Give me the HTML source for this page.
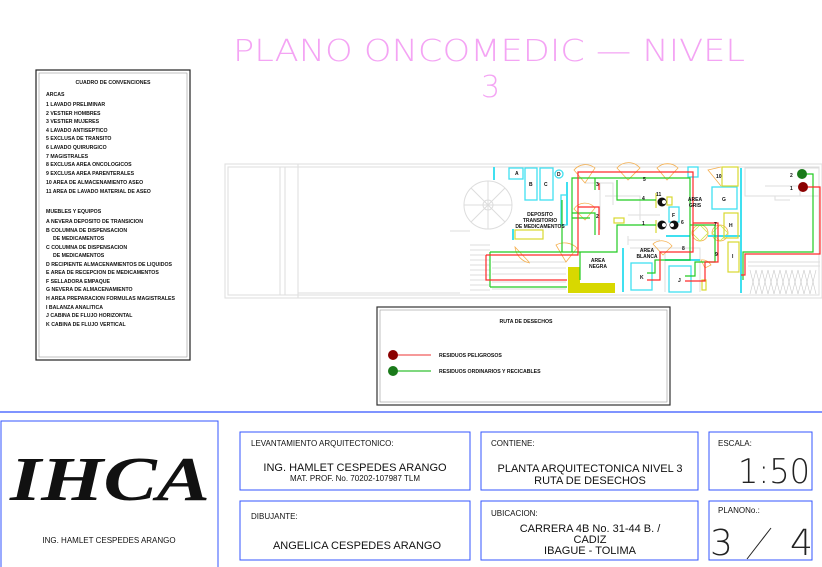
<!DOCTYPE html>
<html><head><meta charset="utf-8"><style>
html,body{margin:0;padding:0;background:#fff;}
svg{display:block;font-family:"Liberation Sans",sans-serif;}
.lg{font-size:5.2px;font-weight:bold;fill:#111;}
.tb{font-size:8px;fill:#111;}
.tm{font-size:11px;fill:#111;}
.pl{font-size:5px;font-weight:bold;fill:#111;}
.thin{font-family:"DejaVu Sans","Liberation Sans Narrow","Liberation Sans",sans-serif;font-weight:200;}
</style></head><body>
<svg width="822" height="567" viewBox="0 0 822 567" xmlns="http://www.w3.org/2000/svg">
<!-- title -->
<text x="233" y="61" font-size="30" fill="#f4a4f4" class="thin" textLength="512" lengthAdjust="spacingAndGlyphs">PLANO ONCOMEDIC  —  NIVEL</text>
<text x="481" y="97" font-size="30" fill="#f4a4f4" class="thin">3</text>

<!-- legend -->
<rect x="36" y="70" width="154" height="290" fill="none" stroke="#222" stroke-width="1.2"/>
<rect x="39" y="73" width="148" height="284" fill="none" stroke="#999" stroke-width="0.6"/>
<g class="lg">
<text x="113" y="84" text-anchor="middle">CUADRO DE CONVENCIONES</text>
<text x="46" y="96">ARCAS</text>
<text x="46" y="106">1  LAVADO PRELIMINAR</text>
<text x="46" y="115">2  VESTIER HOMBRES</text>
<text x="46" y="123">3  VESTIER MUJERES</text>
<text x="46" y="132">4  LAVADO ANTISEPTICO</text>
<text x="46" y="140">5  EXCLUSA DE TRANSITO</text>
<text x="46" y="149">6  LAVADO QUIRURGICO</text>
<text x="46" y="158">7  MAGISTRALES</text>
<text x="46" y="166">8  EXCLUSA AREA ONCOLOGICOS</text>
<text x="46" y="175">9  EXCLUSA AREA PARENTERALES</text>
<text x="46" y="184">10 AREA DE ALMACENAMIENTO ASEO</text>
<text x="46" y="193">11  AREA DE LAVADO MATERIAL DE ASEO</text>
<text x="46" y="213">MUEBLES Y EQUIPOS</text>
<text x="46" y="223">A  NEVERA DEPOSITO DE TRANSICION</text>
<text x="46" y="232">B  COLUMNA DE DISPENSACION</text>
<text x="53" y="240">DE MEDICAMENTOS</text>
<text x="46" y="249">C  COLUMNA DE DISPENSACION</text>
<text x="53" y="257">DE MEDICAMENTOS</text>
<text x="46" y="266">D  RECIPIENTE ALMACENAMIENTOS DE LIQUIDOS</text>
<text x="46" y="274">E  AREA DE RECEPCION DE MEDICAMENTOS</text>
<text x="46" y="283">F  SELLADORA EMPAQUE</text>
<text x="46" y="291">G  NEVERA DE ALMACENAMIENTO</text>
<text x="46" y="300">H  AREA PREPARACION FORMULAS MAGISTRALES</text>
<text x="46" y="309">I  BALANZA ANALITICA</text>
<text x="46" y="317">J  CABINA DE FLUJO HORIZONTAL</text>
<text x="46" y="326">K  CABINA DE FLUJO VERTICAL</text>
</g>

<!-- ruta box -->
<rect x="377" y="307" width="293" height="98" fill="none" stroke="#333" stroke-width="1.2"/>
<rect x="380" y="310" width="287" height="92" fill="none" stroke="#999" stroke-width="0.6"/>
<text x="526" y="323" class="lg" text-anchor="middle">RUTA DE DESECHOS</text>
<line x1="393" y1="355" x2="431" y2="355" stroke="#e33" stroke-width="1"/>
<circle cx="393" cy="355" r="5" fill="#8b0000"/>
<line x1="393" y1="371" x2="431" y2="371" stroke="#5c5" stroke-width="1.5"/>
<circle cx="393" cy="371" r="5" fill="#1a7a1a"/>
<text x="439" y="357" class="lg">RESIDUOS PELIGROSOS</text>
<text x="439" y="373" class="lg">RESIDUOS ORDINARIOS Y RECICABLES</text>

<!-- plan background lines -->
<g fill="none" stroke="#ddd" stroke-width="1">
<rect x="225" y="164" width="597" height="134"/>
<rect x="228" y="167" width="591" height="128"/>
<line x1="280" y1="167" x2="280" y2="295"/><line x1="285" y1="167" x2="285" y2="295"/>
<line x1="298" y1="164" x2="298" y2="298"/>
<line x1="298" y1="293" x2="460" y2="293"/>
<line x1="450" y1="231" x2="470" y2="231"/>
<circle cx="488" cy="205" r="24"/><circle cx="488" cy="205" r="5"/>
<path d="M488 181 L488 229 M464 205 L512 205 M471 188 L505 222 M505 188 L471 222"/>
<path d="M470 245 L490 245 M470 250 L490 250 M470 255 L490 255 M470 260 L490 260 M470 265 L490 265 M470 270 L490 270 M470 275 L490 275 M470 280 L490 280 M470 285 L490 285 M470 290 L490 290"/>
<path d="M492 262 L566 262 M492 268 L566 268 M492 274 L566 274 M492 282 L566 282 M492 289 L566 289"/>
<rect x="745" y="168" width="74" height="28"/>
<path d="M765 186 L800 186 L800 196 M775 196 L775 200 L790 200"/>
<path d="M748 262 L820 262 M748 266 L820 266"/>
<path d="M585 183 L613 183 L613 205 M600 183 L600 230 M605 196 L640 196 L640 220 M628 215 L660 215 M628 240 L660 240 M628 236 L628 245 M630 248 L700 248 L700 292 M665 253 L665 292"/>
</g>
<g stroke="#ccc" stroke-width="0.6">
<path d="M750 270 l6 24 M756 270 l6 24 M762 270 l6 24 M768 270 l6 24 M774 270 l6 24 M780 270 l6 24 M786 270 l6 24 M792 270 l6 24 M798 270 l6 24 M804 270 l6 24 M810 270 l6 24"/>
<path d="M750 294 l6 -24 M756 294 l6 -24 M762 294 l6 -24 M768 294 l6 -24 M774 294 l6 -24 M780 294 l6 -24 M786 294 l6 -24 M792 294 l6 -24 M798 294 l6 -24 M804 294 l6 -24 M810 294 l6 -24"/>
</g>

<path d="M568 267 L580 267 L580 283 L615 283 L615 293 L568 293 Z" fill="#d8d800"/>

<g fill="none" stroke="#f5b050" stroke-width="0.8">
<path d="M585 183 L574 170 A15 15 0 0 1 595 168 Z"/>
<path d="M628 180 L617 168 A15 15 0 0 1 640 168 Z"/>
<path d="M667 180 L657 168 A15 15 0 0 1 678 168 Z"/>
<path d="M585 220 L574 209 A13 13 0 0 1 595 208 Z"/>
<path d="M529 262 L515 247 A18 18 0 0 0 530 263"/>
<path d="M566 262 L556 245 A18 18 0 0 1 577 248 Z"/>
<path d="M663 255 L653 244 A13 13 0 0 1 672 246 Z"/>
<path d="M721 186 L708 170 L721 167"/>
<path d="M700 233 m-8 0 a8 8 0 1 0 16 0 a8 8 0 1 0 -16 0"/>
<path d="M720 233 m-8 0 a8 8 0 1 0 16 0 a8 8 0 1 0 -16 0"/>
<path d="M705 268 L701 260 A10 10 0 0 1 711 265 Z"/>
</g>
<g fill="none" stroke="#cde64a" stroke-width="0.8">
<path d="M692 233 l8 -8 l8 8 l-8 8 z M712 233 l8 -8 l8 8 l-8 8 z"/>
</g>

<g fill="none" stroke="#40e0f0" stroke-width="1.3">
<rect x="509" y="168" width="14" height="11"/>
<rect x="525" y="168" width="12" height="32"/>
<rect x="540" y="168" width="13" height="32"/>
<circle cx="559" cy="174" r="4"/>
<rect x="561" y="195" width="6" height="30"/>
<rect x="669" y="207" width="10" height="15"/>
<rect x="688" y="167" width="10" height="10"/>
<rect x="712" y="187" width="25" height="22"/>
<rect x="631" y="263" width="21" height="27"/>
<rect x="669" y="266" width="22" height="26"/>
</g>
<g stroke="#40e0f0" stroke-width="2">
<line x1="494" y1="167" x2="494" y2="180"/>
<line x1="567" y1="182" x2="567" y2="225"/>
<line x1="513" y1="229" x2="513" y2="240"/>
<line x1="741" y1="168" x2="741" y2="293"/>
<line x1="666" y1="236" x2="690" y2="236"/>
<line x1="708" y1="236" x2="741" y2="236"/>
<line x1="665" y1="260" x2="700" y2="260"/>
<line x1="623" y1="248" x2="623" y2="292"/>
</g>
<g fill="none" stroke="#d8d830" stroke-width="1.2">
<rect x="515" y="230" width="28" height="9"/>
<rect x="722" y="167" width="16" height="19"/>
<rect x="724" y="213" width="14" height="25"/>
<rect x="728" y="242" width="11" height="30"/>
<rect x="614" y="218" width="10" height="5"/>
<rect x="667" y="197" width="5" height="8"/>
<rect x="702" y="280" width="4" height="10"/>
<line x1="656" y1="193" x2="656" y2="208"/>
<line x1="656" y1="220" x2="656" y2="233"/>
</g>
<g fill="#111">
<circle cx="662" cy="202" r="4.5"/><circle cx="662" cy="225" r="4.5"/><circle cx="674" cy="225" r="4.5"/>
</g>
<g fill="#fff"><circle cx="664" cy="202" r="2"/><circle cx="664" cy="225" r="2"/><circle cx="672" cy="225" r="2"/></g>

<g fill="none" stroke="#22cc22" stroke-width="1.2">
<path d="M490 287 L567 287 M490 252 L490 287 M490 252 L617 252 L617 225 L656 225"/>
<path d="M572 252 L572 178 L690 178 L690 260 L655 260 L655 273 L647 273"/>
<path d="M572 213 L595 213 L595 235 M572 218 L590 218 M595 178 L595 190 M617 180 L617 200 L656 200"/>
<path d="M562 200 L562 252 M580 252 L580 280"/>
<path d="M690 225 L715 225 L715 262 L695 262 L695 276 L685 276"/>
<path d="M802 174 L813 174 L813 252 L743 252 L743 280"/>
</g>
<g fill="none" stroke="#ff2a2a" stroke-width="1.2">
<path d="M486 255 L578 255 L578 172 L693 172 L693 252 L660 252 L660 280 L647 280"/>
<path d="M486 255 L486 280 L567 280"/>
<path d="M578 207 L599 207 L599 235 M599 183 L599 190"/>
<path d="M693 223 L718 223 L718 262 L705 262 L705 281 L685 281"/>
<path d="M803 187 L820 187 L820 254 L745 254 L745 275 L741 275"/>
</g>
<circle cx="802" cy="174" r="5" fill="#1a7a1a"/>
<circle cx="803" cy="187" r="5" fill="#8b0000"/>
<g class="pl">
<text x="515" y="175">A</text><text x="529" y="186">B</text><text x="544" y="186">C</text><text x="557" y="176">D</text>
<text x="790" y="177">2</text><text x="790" y="190">1</text>
<text x="716" y="178">10</text><text x="722" y="201">G</text><text x="729" y="227">H</text><text x="732" y="258">I</text>
<text x="640" y="279">K</text><text x="678" y="282">J</text><text x="672" y="217">F</text>
<text x="540" y="216" text-anchor="middle">DEPOSITO</text>
<text x="540" y="222" text-anchor="middle">TRANSITORIO</text>
<text x="540" y="228" text-anchor="middle">DE MEDICAMENTOS</text>
<text x="598" y="262" text-anchor="middle">AREA</text><text x="598" y="268" text-anchor="middle">NEGRA</text>
<text x="647" y="252" text-anchor="middle">AREA</text><text x="647" y="258" text-anchor="middle">BLANCA</text>
<text x="695" y="201" text-anchor="middle">AREA</text><text x="695" y="207" text-anchor="middle">GRIS</text>
<text x="596" y="186">3</text><text x="596" y="218">2</text><text x="643" y="181">5</text>
<text x="642" y="200">4</text><text x="642" y="225">1</text><text x="681" y="224">6</text>
<text x="714" y="226">7</text><text x="682" y="250">8</text><text x="715" y="256">9</text><text x="656" y="196">11</text>
</g>

<!-- title block -->
<line x1="0" y1="412" x2="822" y2="412" stroke="#3355ff" stroke-width="1.2"/>
<g fill="none" stroke="#3355ff" stroke-width="1">
<rect x="1" y="421" width="217" height="150"/>
<rect x="240" y="432" width="230" height="58"/>
<rect x="240" y="501" width="230" height="59"/>
<rect x="481" y="432" width="217" height="58"/>
<rect x="481" y="501" width="217" height="59"/>
<rect x="709" y="432" width="103" height="58"/>
<rect x="709" y="501" width="103" height="59"/>
</g>
<text x="10" y="500" font-family="Liberation Serif,serif" font-style="italic" font-weight="bold" font-size="62" fill="#111" textLength="200" lengthAdjust="spacingAndGlyphs">IHCA</text>
<text x="109" y="543" class="tb" font-size="7.5" text-anchor="middle">ING. HAMLET CESPEDES ARANGO</text>
<text x="251" y="446" class="tb">LEVANTAMIENTO ARQUITECTONICO:</text>
<text x="355" y="471" class="tm" text-anchor="middle">ING. HAMLET CESPEDES ARANGO</text>
<text x="355" y="481" class="tb" font-size="6.5" text-anchor="middle">MAT. PROF. No. 70202-107987 TLM</text>
<text x="251" y="519" class="tb">DIBUJANTE:</text>
<text x="357" y="549" class="tm" font-size="12" text-anchor="middle">ANGELICA CESPEDES ARANGO</text>
<text x="491" y="446" class="tb">CONTIENE:</text>
<text x="590" y="472" class="tm" text-anchor="middle">PLANTA ARQUITECTONICA NIVEL 3</text>
<text x="590" y="484" class="tm" text-anchor="middle">RUTA DE DESECHOS</text>
<text x="491" y="516" class="tb">UBICACION:</text>
<text x="590" y="532" class="tm" text-anchor="middle">CARRERA 4B No. 31-44  B. /</text>
<text x="590" y="543" class="tm" text-anchor="middle">CADIZ</text>
<text x="590" y="554" class="tm" text-anchor="middle">IBAGUE - TOLIMA</text>
<text x="718" y="446" class="tb">ESCALA:</text>
<text x="738" y="483" font-size="34" fill="#222" class="thin" textLength="72" lengthAdjust="spacingAndGlyphs">1:50</text>
<text x="718" y="513" class="tb">PLANONo.:</text>
<text x="710" y="555" font-size="36" fill="#222" class="thin">3</text>
<line x1="747" y1="559" x2="771" y2="528" stroke="#222" stroke-width="1"/>
<text x="790" y="555" font-size="36" fill="#222" class="thin">4</text>
</svg>
</body></html>
